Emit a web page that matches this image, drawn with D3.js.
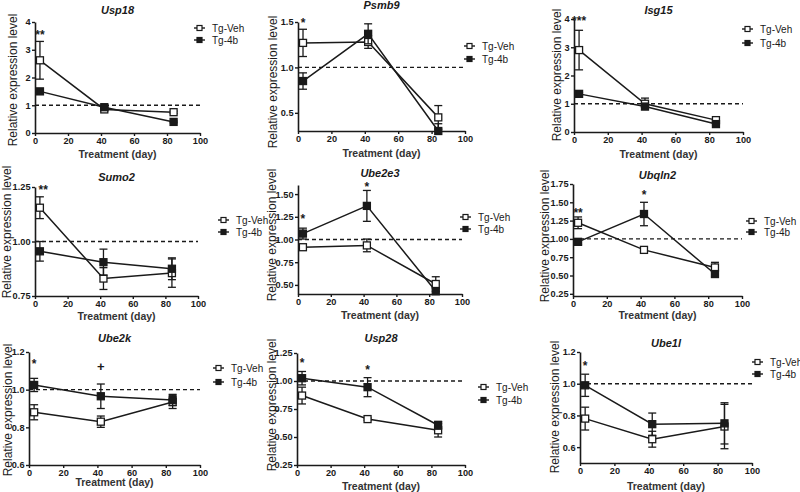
<!DOCTYPE html>
<html><head><meta charset="utf-8">
<script src="https://cdn.jsdelivr.net/npm/d3@7"></script>
<style>body{margin:0;background:#fff} svg{display:block;font-family:"Liberation Sans",Arial,sans-serif}</style>
</head><body><svg id="c" width="800" height="492"></svg>
<script>
// ---------- data ----------
const genes = ["Usp18","Psmb9","Isg15","Sumo2","Ube2e3","Ubqln2","Ube2k","Usp28","Ube1l"];
const seriesNames = ["Tg-Veh","Tg-4b"];
const days = [3, 42, 84];
const vehMean = [[2.62,0.85,0.75],[1.27,1.28,0.45],[2.9,1.0,0.42],[1.155,0.83,0.855],[0.915,0.935,0.51],[1.22,0.85,0.61],[0.88,0.83,0.935],[0.87,0.66,0.56],[0.78,0.65,0.73]];
const vehSem  = [[0.68,0.05,0.04],[0.15,0.07,0.13],[0.7,0.2,0.05],[0.05,0.05,0.065],[0.01,0.07,0.08],[0.08,0.03,0.07],[0.04,0.03,0.035],[0.075,0.01,0.06],[0.072,0.05,0.14]];
const b4Mean  = [[1.5,0.93,0.4],[0.85,1.37,0.30],[1.35,0.9,0.28],[0.955,0.905,0.875],[1.065,1.37,0.43],[0.96,1.34,0.52],[1.025,0.965,0.945],[1.025,0.945,0.605],[0.99,0.745,0.75]];
const b4Sem   = [[0.09,0.05,0.03],[0.09,0.11,0.08],[0.05,0.08,0.04],[0.045,0.06,0.05],[0.06,0.17,0.03],[0.04,0.16,0.03],[0.035,0.065,0.03],[0.06,0.085,0.035],[0.07,0.07,0.13]];
const yDomains = [[0,4],[0.3,1.5],[0,4],[0.75,1.25],[0.4,1.6],[0.22,1.75],[0.6,1.2],[0.25,1.25],[0.5,1.2]];
const yTicks = [[0,1,2,3,4],[0.5,1.0,1.5],[0,1,2,3,4],[0.75,1.0,1.25],[0.5,0.75,1.0,1.25,1.5],[0.25,0.5,0.75,1.0,1.25,1.5,1.75],[0.6,0.8,1.0,1.2],[0.25,0.5,0.75,1.0,1.25],[0.6,0.8,1.0,1.2]];
const yFormats = ["d",".1f","d",".2f",".2f",".2f",".1f",".2f",".1f"];
const xTicks = [0,20,40,60,80,100];
const refLine = 1;
const sigLabels = [["**"],["*"],["***"],["**"],["*","*"],["**","*"],["*","+"],["*","*"],["*"]];
const sigDays   = [[3],[3],[3],[5],[3,42],[3,42],[3,42],[3,42],[3]];
const sigY      = [[3.62],[1.52],[4.02],[1.25],[1.25,1.61],[1.39,1.63],[1.15,1.12],[1.18,1.125],[1.125]];
const xLabel = "Treatment (day)";
const yLabel = "Relative expression level";

// ---------- layout (pixels) ----------
const layout = [
  {l:35, r:200, t:22, b:133, yl:13, ylc:80, xlb:158, tt:14, lgx:194, lgy:28, lgg:12},
  {l:298,r:465, t:22, b:131, yl:273,ylc:82, xlb:157, tt:9,  lgx:464, lgy:46, lgg:13},
  {l:574,r:743, t:19, b:132, yl:557,ylc:75, xlb:158, tt:14, lgx:742, lgy:29, lgg:14},
  {l:35, r:198, t:187,b:296, yl:7,  ylc:232,xlb:320, tt:181,lgx:218, lgy:220,lgg:12},
  {l:298,r:462, t:185,b:294, yl:272,ylc:235,xlb:319, tt:177,lgx:460, lgy:217,lgg:12},
  {l:573,r:742, t:184,b:296, yl:545,ylc:236,xlb:319, tt:179,lgx:746, lgy:221,lgg:11},
  {l:29, r:200, t:352,b:465, yl:8,  ylc:410,xlb:486, tt:342,lgx:213, lgy:368,lgg:14},
  {l:297,r:465, t:353,b:465, yl:272,ylc:405,xlb:490, tt:342,lgx:478, lgy:387,lgg:13},
  {l:580,r:752, t:352,b:463, yl:555,ylc:407,xlb:490, tt:347,lgx:752, lgy:362,lgg:12}
];

const svg = d3.select("#c");
const ink = "#1a1a1a";

genes.forEach((g, i) => {
  const L = layout[i];
  const x = d3.scaleLinear().domain([0,100]).range([L.l, L.r]);
  const y = d3.scaleLinear().domain(yDomains[i]).range([L.b, L.t]);
  const G = svg.append("g");

  // axes
  const xa = G.append("g").attr("transform",`translate(0,${L.b})`)
    .call(d3.axisBottom(x).tickValues(xTicks).tickSize(3).tickPadding(1).tickSizeOuter(0).tickFormat(d3.format("d")));
  const ya = G.append("g").attr("transform",`translate(${L.l},0)`)
    .call(d3.axisLeft(y).tickValues(yTicks[i]).tickSize(3).tickPadding(1.5).tickSizeOuter(0).tickFormat(d3.format(yFormats[i])));
  [xa, ya].forEach(a => {
    a.select(".domain").attr("stroke", ink).attr("stroke-width", 1.6);
    a.selectAll(".tick line").attr("stroke", ink).attr("stroke-width", 1.4);
    a.selectAll(".tick text").attr("fill", ink).attr("font-size", 9.2).attr("font-weight","bold")
      .attr("font-family",'"Liberation Sans",Arial,sans-serif');
  });

  // reference dashed line
  G.append("line").attr("x1", x(0)).attr("x2", x(100)).attr("y1", y(refLine)).attr("y2", y(refLine))
    .attr("stroke", ink).attr("stroke-width", 1.4).attr("stroke-dasharray","4,3");

  const lo = yDomains[i][0];
  const series = [
    {m: vehMean[i], s: vehSem[i], open: true},
    {m: b4Mean[i],  s: b4Sem[i],  open: false}
  ];
  series.forEach(S => {
    const pts = days.map((d,k) => ({d, v:S.m[k], e:S.s[k]}));
    pts.forEach(p => {
      const yt = y(p.v + p.e), yb = y(Math.max(lo, p.v - p.e));
      G.append("line").attr("x1",x(p.d)).attr("x2",x(p.d)).attr("y1",yt).attr("y2",yb)
        .attr("stroke",ink).attr("stroke-width",1.3);
      G.append("line").attr("x1",x(p.d)-4).attr("x2",x(p.d)+4).attr("y1",yt).attr("y2",yt)
        .attr("stroke",ink).attr("stroke-width",1.3);
      if (p.v - p.e > lo)
        G.append("line").attr("x1",x(p.d)-4).attr("x2",x(p.d)+4).attr("y1",yb).attr("y2",yb)
          .attr("stroke",ink).attr("stroke-width",1.3);
    });
    G.append("path").datum(pts)
      .attr("d", d3.line().x(p=>x(p.d)).y(p=>y(p.v)))
      .attr("fill","none").attr("stroke",ink).attr("stroke-width",1.5);
    G.selectAll(null).data(pts).enter().append("rect")
      .attr("x", p=>x(p.d)-3.5).attr("y", p=>y(p.v)-3.5).attr("width",7).attr("height",7)
      .attr("fill", S.open ? "#fff" : ink).attr("stroke", ink).attr("stroke-width",1.3);
  });

  // significance labels
  sigLabels[i].forEach((t,k) => {
    G.append("text").attr("x", x(sigDays[i][k])).attr("y", y(sigY[i][k]) + (t === "+" ? 4 : 6.5))
      .attr("text-anchor","middle").attr("font-size", t === "+" ? 13 : 12).attr("font-weight","bold")
      .attr("fill", ink).text(t);
  });

  // title
  G.append("text").attr("x",(L.l+L.r)/2).attr("y",L.tt).attr("text-anchor","middle")
    .attr("font-size",11).attr("font-weight","bold").attr("font-style","italic").attr("fill",ink).text(g);
  // x label
  G.append("text").attr("x",(L.l+L.r)/2).attr("y",L.xlb).attr("text-anchor","middle")
    .attr("font-size",10.5).attr("font-weight","bold").attr("fill","#333").text(xLabel);
  // y label
  G.append("text").attr("transform",`translate(${L.yl + 4},${L.ylc}) rotate(-90)`).attr("text-anchor","middle")
    .attr("font-size",12).attr("fill",ink).text(yLabel);

  // legend
  seriesNames.forEach((n,k) => {
    const ly = L.lgy + k*L.lgg;
    G.append("line").attr("x1",L.lgx).attr("x2",L.lgx+11).attr("y1",ly).attr("y2",ly)
      .attr("stroke",ink).attr("stroke-width",1.4);
    G.append("rect").attr("x",L.lgx+3).attr("y",ly-2.5).attr("width",5).attr("height",5)
      .attr("fill", k===0 ? "#fff" : ink).attr("stroke",ink).attr("stroke-width",1.2);
    G.append("text").attr("x",L.lgx+18).attr("y",ly+3.5).attr("font-size",10).attr("fill",ink).text(n);
  });
});
</script></body></html>
